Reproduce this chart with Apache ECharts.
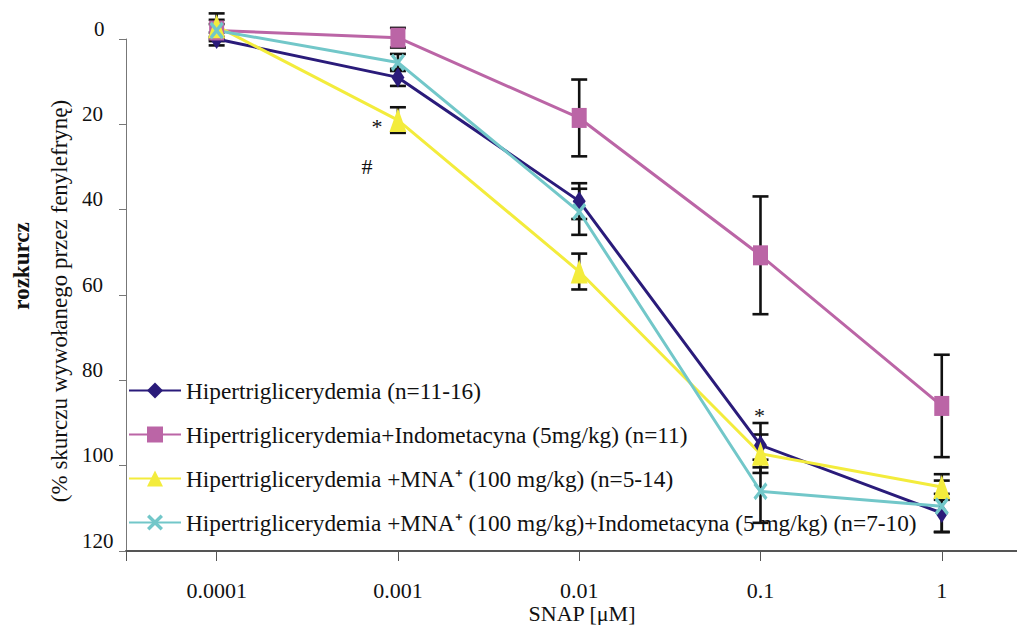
<!DOCTYPE html>
<html><head><meta charset="utf-8">
<script src="https://cdn.jsdelivr.net/npm/echarts@6/dist/echarts.min.js"></script>
<style>html,body{margin:0;padding:0;background:#fff}#c{width:1017px;height:625px}</style>
</head><body><div id="c"></div>
<script>
// ---- data ----
const concentrations = [0.0001, 0.001, 0.01, 0.1, 1];
const xTickLabels = ['0.0001', '0.001', '0.01', '0.1', '1'];
const seriesNames = [
  'Hipertriglicerydemia (n=11-16)',
  'Hipertriglicerydemia+Indometacyna (5mg/kg) (n=11)',
  'Hipertriglicerydemia +MNA\u207A (100 mg/kg) (n=5-14)',
  'Hipertriglicerydemia +MNA\u207A (100 mg/kg)+Indometacyna (5 mg/kg) (n=7-10)'
];
const hiper      = [0, 9, 38, 95.2, 111.1];
const hiperErr   = [1.5, 2, 4.2, 5.2, 4.5];
const indo       = [-2, -0.3, 18.5, 50.7, 86];
const indoErr    = [2.5, 2.3, 9, 13.8, 12];
const mna        = [-3, 19, 54.5, 97.2, 105];
const mnaErr     = [3, 3, 4.2, 4.5, 3];
const mnaIndo    = [-2, 5.5, 40.5, 106, 109.5];
const mnaIndoErr = [1.5, 2, 5.4, 7.4, 6];
const yTicks = [0, 20, 40, 60, 80, 100, 120];

// ---- chart ----
const FONT = 'Liberation Serif';
const xs = concentrations.map(c => Math.log10(c));
const X_MIN = -4.5, X_MAX = 0.415;
const xPath = 'path://M0,1.5L1.5,0L5,3.5L8.5,0L10,1.5L6.5,5L10,8.5L8.5,10L5,6.5L1.5,10L0,8.5L3.5,5Z';

function lineSeries(name, vals, color, symbol, size, extra) {
  return Object.assign({
    name, type: 'line', data: xs.map((x, i) => [x, vals[i]]),
    symbol, symbolSize: size, clip: false, z: 3,
    lineStyle: { color, width: 3 },
    itemStyle: { color, borderWidth: 0 },
    emphasis: { disabled: true }
  }, extra || {});
}
function errSeries(vals, errs) {
  return {
    type: 'custom', data: xs.map((x, i) => [x, vals[i], errs[i]]),
    clip: false, silent: true, z: 2, encode: { x: 0, y: 1 },
    renderItem(params, api) {
      const x = api.value(0), y = api.value(1), e = api.value(2);
      const top = api.coord([x, y - e]), bot = api.coord([x, y + e]);
      const w = 8, st = { stroke: '#111', lineWidth: 2.6 };
      return { type: 'group', children: [
        { type: 'line', shape: { x1: top[0], y1: top[1], x2: bot[0], y2: bot[1] }, style: st },
        { type: 'line', shape: { x1: top[0] - w, y1: top[1], x2: top[0] + w, y2: top[1] }, style: st },
        { type: 'line', shape: { x1: bot[0] - w, y1: bot[1], x2: bot[0] + w, y2: bot[1] }, style: st }
      ] };
    }
  };
}
const annoLabel = (text, offset) => ({
  symbol: 'circle', symbolSize: 0,
  label: { show: true, position: 'inside', formatter: text, offset, fontFamily: FONT, fontSize: 22, color: '#111' }
});

const chart = echarts.init(document.getElementById('c'), null, { renderer: 'svg' });
chart.setOption({
  backgroundColor: '#fff',
  animation: false,
  grid: { left: 126, right: 0, top: 39, bottom: 74, containLabel: false, outerBoundsMode: 'none' },
  xAxis: {
    type: 'value', min: X_MIN, max: X_MAX,
    axisLine: { show: true, onZero: false, lineStyle: { color: '#555', width: 2 } },
    axisTick: { show: true, length: 10, customValues: [X_MIN].concat(xs), lineStyle: { color: '#555', width: 1 } },
    axisLabel: {
      customValues: xs, margin: 28, fontFamily: FONT, fontSize: 22, color: '#111',
      formatter: v => { const i = xs.findIndex(x => Math.abs(x - v) < 1e-6); return i >= 0 ? xTickLabels[i] : ''; }
    },
    splitLine: { show: false }
  },
  yAxis: {
    type: 'value', min: 0, max: 120, interval: 20, inverse: true,
    axisLine: { show: true, onZero: false, lineStyle: { color: '#777', width: 1 } },
    axisTick: { show: true, length: 7, lineStyle: { color: '#777', width: 1 } },
    axisLabel: {
      margin: 44, align: 'left', verticalAlign: 'bottom', fontFamily: FONT, fontSize: 21, color: '#111',
      formatter: v => yTicks.indexOf(v) === 0 ? '{z|' + v + '}' : String(v),
      rich: { z: { padding: [0, 0, 0, 12], fontFamily: FONT, fontSize: 21, color: '#111' } }
    },
    splitLine: { show: false }
  },
  legend: {
    orient: 'vertical', left: 128, top: 379, padding: 0,
    itemWidth: 52, itemHeight: 20, itemGap: 21,
    textStyle: { fontFamily: FONT, fontSize: 23.3, color: '#111' },
    data: seriesNames
  },
  graphic: [
    { type: 'text', x: 21, y: 266, rotation: Math.PI / 2,
      style: { text: 'rozkurcz', fontFamily: FONT, fontSize: 23, fontWeight: 'bold', fill: '#111', align: 'center', verticalAlign: 'middle' } },
    { type: 'text', x: 59, y: 301, rotation: Math.PI / 2,
      style: { text: '(% skurczu wywołanego przez fenylefrynę)', fontFamily: FONT, fontSize: 23, fill: '#111', align: 'center', verticalAlign: 'middle' } },
    { type: 'text', x: 582, y: 613,
      style: { text: 'SNAP [\u03BCM]', fontFamily: FONT, fontSize: 22, fill: '#111', align: 'center', verticalAlign: 'middle' } }
  ],
  series: [
    errSeries(hiper, hiperErr),
    errSeries(indo, indoErr),
    errSeries(mna, mnaErr),
    errSeries(mnaIndo, mnaIndoErr),
    lineSeries(seriesNames[0], hiper, '#2a1b7a', 'diamond', [13, 20], {
      markPoint: { silent: true, data: [Object.assign({ coord: [xs[3], hiper[3]] }, annoLabel('*', [-1, -30]))] }
    }),
    lineSeries(seriesNames[1], indo, '#bb65a6', 'rect', [15, 20]),
    lineSeries(seriesNames[2], mna, '#f3ec3c', 'triangle', [17, 24], {
      markPoint: { silent: true, data: [
        Object.assign({ coord: [xs[1], mna[1]] }, annoLabel('*', [-21, 6])),
        Object.assign({ coord: [xs[1], mna[1]] }, annoLabel('#', [-31, 46]))
      ] }
    }),
    lineSeries(seriesNames[3], mnaIndo, '#72c7c9', xPath, [14, 18])
  ]
});
</script></body></html>
